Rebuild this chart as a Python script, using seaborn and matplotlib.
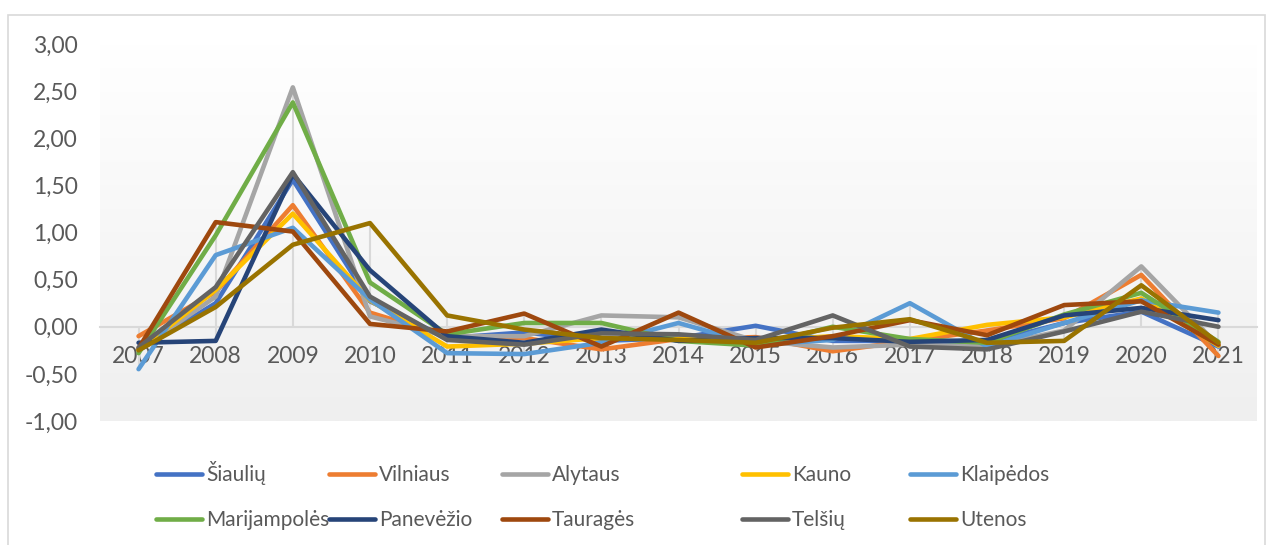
import numpy as np
import pandas as pd
import matplotlib
matplotlib.use("Agg")
import matplotlib.pyplot as plt
import seaborn as sns
from matplotlib.colors import LinearSegmentedColormap
from matplotlib.patches import Rectangle
from matplotlib.ticker import FuncFormatter
from matplotlib.font_manager import FontProperties

# ------------------------------------------------------------------------
# Data
# ------------------------------------------------------------------------
years = list(range(2007, 2022))

siauliu = [-0.25, 0.25, 1.56, 0.27, -0.12, -0.06, -0.15, -0.12, 0.01, -0.15, -0.15, -0.17, 0.04, 0.16, -0.21]
vilniaus = [-0.10, 0.37, 1.29, 0.15, -0.10, -0.12, -0.24, -0.13, -0.11, -0.26, -0.15, -0.04, 0.09, 0.55, -0.31]
alytaus = [-0.25, 0.32, 2.54, 0.11, -0.10, -0.10, 0.12, 0.10, -0.15, -0.22, -0.19, -0.21, -0.04, 0.64, -0.20]
kauno = [-0.25, 0.39, 1.20, 0.28, -0.21, -0.18, -0.12, -0.13, -0.15, -0.10, -0.13, 0.02, 0.10, 0.30, -0.20]
klaipedos = [-0.45, 0.76, 1.05, 0.29, -0.28, -0.29, -0.17, 0.04, -0.19, -0.14, 0.25, -0.21, 0.04, 0.28, 0.15]
marijampoles = [-0.28, 0.97, 2.38, 0.47, -0.08, 0.04, 0.04, -0.15, -0.20, 0.00, -0.13, -0.17, 0.13, 0.36, -0.16]
panevezio = [-0.17, -0.15, 1.62, 0.60, -0.10, -0.17, -0.03, -0.15, -0.12, -0.12, -0.16, -0.14, 0.12, 0.20, 0.07]
taurages = [-0.23, 1.11, 1.01, 0.03, -0.05, 0.14, -0.21, 0.15, -0.22, -0.10, 0.07, -0.09, 0.23, 0.27, -0.19]
telsiu = [-0.22, 0.42, 1.64, 0.32, -0.14, -0.19, -0.07, -0.08, -0.14, 0.12, -0.21, -0.24, -0.05, 0.16, 0.00]
utenos = [-0.25, 0.21, 0.87, 1.10, 0.12, -0.03, -0.12, -0.14, -0.17, -0.01, 0.08, -0.17, -0.15, 0.44, -0.17]

series_names = ["Šiaulių", "Vilniaus", "Alytaus", "Kauno", "Klaipėdos",
                "Marijampolės", "Panevėžio", "Tauragės", "Telšių", "Utenos"]
series_values = [siauliu, vilniaus, alytaus, kauno, klaipedos,
                 marijampoles, panevezio, taurages, telsiu, utenos]
series_colors = ["#4472C4", "#ED7D31", "#A5A5A5", "#FFC000", "#5B9BD5",
                 "#70AD47", "#264478", "#9E480E", "#636363", "#997300"]

y_ticks = [-1.0, -0.5, 0.0, 0.5, 1.0, 1.5, 2.0, 2.5, 3.0]

df = pd.concat(
    [pd.DataFrame({"Metai": years, "Reikšmė": vals, "Apskritis": name})
     for name, vals in zip(series_names, series_values)],
    ignore_index=True,
)

# ------------------------------------------------------------------------
# Figure
# ------------------------------------------------------------------------
sns.set_style("white")
plt.rcParams["font.family"] = ["Lato", "DejaVu Sans"]
text_color = "#595959"
grid_color = "#d9d9d9"

W, H = 1273, 545
fig = plt.figure(figsize=(W / 100, H / 100), dpi=100)
ax = fig.add_axes([100 / W, 1 - 421 / H, 1157 / W, (421 - 44) / H])

# chart border
fig.add_artist(Rectangle((8 / W, -0.02), 1257 / W, 1.02 - 15 / H,
                         transform=fig.transFigure, fill=False,
                         edgecolor=grid_color, lw=1.2))

# plot area gradient
cmap = LinearSegmentedColormap.from_list("bg", ["#ffffff", "#efefef"])
ax.imshow(np.linspace(0, 1, 256).reshape(-1, 1), cmap=cmap, aspect="auto",
          extent=[years[0] - 0.5, years[-1] + 0.5, -1.0, 3.0],
          origin="upper", zorder=0)

# drop lines
arr = np.array(series_values)
ax.vlines(years, np.minimum(arr.min(axis=0), 0), np.maximum(arr.max(axis=0), 0),
          color=grid_color, lw=1.5, zorder=1)

sns.lineplot(data=df, x="Metai", y="Reikšmė", hue="Apskritis",
             hue_order=series_names, palette=dict(zip(series_names, series_colors)),
             sort=False, lw=3.3, ax=ax, zorder=3)

ax.set_xlim(years[0] - 0.5, years[-1] + 0.5)
ax.set_ylim(-1.0, 3.0)
ax.set_xticks(years)
ax.set_yticks(y_ticks)
ax.yaxis.set_major_formatter(FuncFormatter(lambda v, p: f"{v:.2f}".replace(".", ",")))
ax.set_xlabel("")
ax.set_ylabel("")

for s in ["top", "right", "left"]:
    ax.spines[s].set_visible(False)
ax.spines["bottom"].set_position(("data", 0))
ax.spines["bottom"].set_color(grid_color)
ax.spines["bottom"].set_linewidth(1.5)
ax.spines["bottom"].set_zorder(1)

ax.tick_params(axis="x", length=0, pad=14, labelsize=16.5, labelcolor=text_color)
ax.tick_params(axis="y", length=0, pad=16, labelsize=16.5, labelcolor=text_color)

# legend: Excel lays it out row-wise in fixed columns -> one small legend per column
handles, labels = ax.get_legend_handles_labels()
ax.get_legend().remove()
leg_size = 15
renderer = fig.canvas.get_renderer()
prop = FontProperties(family=["Lato", "DejaVu Sans"], size=leg_size)


def ascent(s):
    w, h, d = renderer.get_text_width_height_descent(s, prop, ismath=False)
    return h - d


base_asc = ascent("lp")
col_x = [156, 329, 502, 742, 910]
for c, x0 in enumerate(col_x):
    idx = [c, c + 5]
    shift = max(ascent(labels[c]) - base_asc, 0)  # keep first-row baselines level
    leg = fig.legend([handles[i] for i in idx], [labels[i] for i in idx],
                     loc="upper left", bbox_to_anchor=(x0 / W, 1 - (465 - shift) / H),
                     frameon=False, fontsize=leg_size, handlelength=2.2,
                     handletextpad=0.2, borderpad=0, borderaxespad=0,
                     labelspacing=1.2)
    for t in leg.get_texts():
        t.set_color(text_color)
    for h in leg.legend_handles:
        h.set_linewidth(3.3)
        h.set_solid_capstyle("round")

fig.savefig("out.png", dpi=100)
